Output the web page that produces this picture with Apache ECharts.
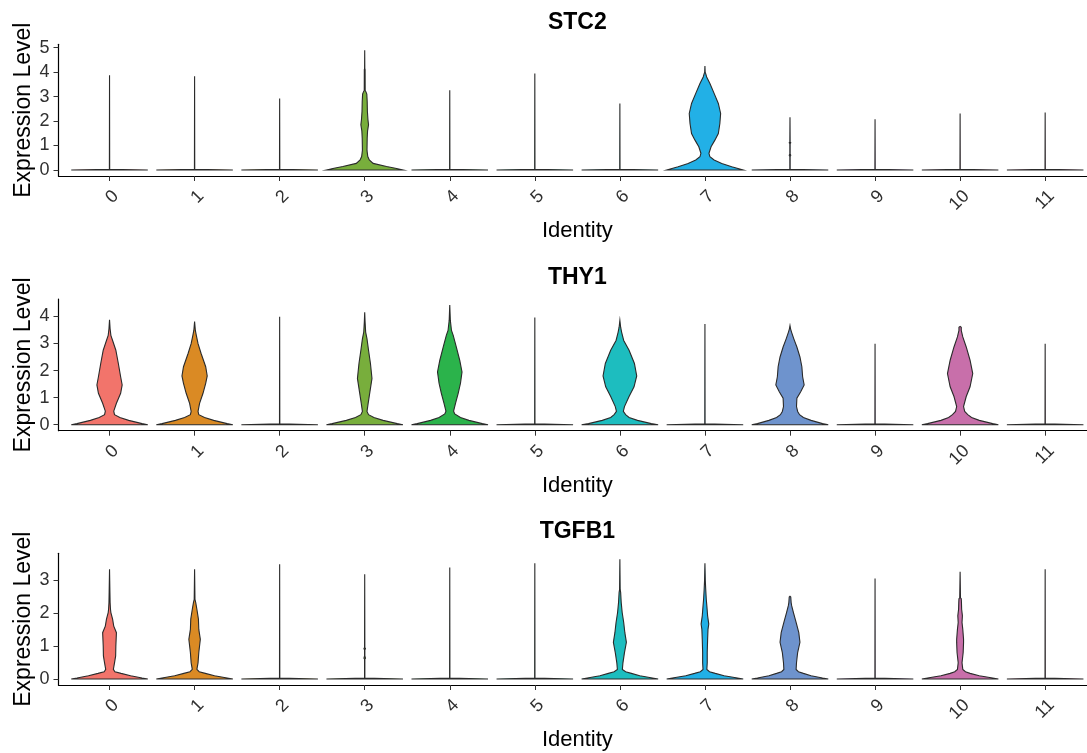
<!DOCTYPE html>
<html><head><meta charset="utf-8">
<script src="https://cdn.jsdelivr.net/npm/echarts@6/dist/echarts.min.js"></script>
<style>html,body{margin:0;padding:0;background:#fff}#c{width:1087px;height:753px}</style>
</head><body><div id="c"></div>
<script>
// ---------- data ----------
const categories = ['0','1','2','3','4','5','6','7','8','9','10','11'];
const genes = ['STC2','THY1','TGFB1'];
const clusterColors = ['#F2746B','#DA8A24','#B79F00','#78AE3C','#2BB34B','#00C08B',
                       '#1DBDBF','#22B0E6','#6E93CD','#C77CFF','#C86FAA','#FF64B0'];
const stc2Ticks = [0,1,2,3,4,5];
const thy1Ticks = [0,1,2,3,4];
const tgfb1Ticks = [0,1,2,3];

// violin profiles: [expression level, relative half-width]
const stc2Violins = [
  [[0,1],[0.03,0.004],[3.87,0]],
  [[0,1],[0.03,0.004],[3.83,0]],
  [[0,1],[0.03,0.004],[2.92,0]],
  [[0,1],[0.07,0.8],[0.14,0.57],[0.27,0.22],[0.41,0.12],[0.55,0.08],[0.8,0.06],[1.3,0.065],[1.6,0.075],[1.85,0.1],[2.05,0.085],[2.4,0.07],[2.8,0.065],[3.1,0.055],[3.2,0.03],[3.25,0.012],[4.1,0.01],[4.15,0.003],[4.89,0]],
  [[0,1],[0.03,0.004],[3.26,0]],
  [[0,1],[0.03,0.004],[3.94,0]],
  [[0,1],[0.03,0.004],[2.72,0]],
  [[0,1],[0.136,0.7],[0.27,0.44],[0.41,0.24],[0.54,0.13],[0.68,0.105],[0.95,0.16],[1.22,0.26],[1.49,0.35],[1.9,0.39],[2.31,0.41],[2.72,0.35],[3.13,0.24],[3.53,0.13],[3.8,0.045],[3.94,0.02],[4.0,0.006],[4.25,0]],
  [[0,1],[0.03,0.004],[0.55,0.004],[0.6,0.02],[0.65,0.004],[1.08,0.004],[1.11,0.02],[1.14,0.004],[2.15,0]],
  [[0,1],[0.03,0.004],[2.07,0]],
  [[0,1],[0.03,0.004],[2.31,0]],
  [[0,1],[0.03,0.004],[2.35,0]]
];
const thy1Violins = [
  [[0,1],[0.04,0.85],[0.16,0.5],[0.27,0.27],[0.37,0.13],[0.5,0.11],[0.79,0.18],[1.16,0.29],[1.47,0.33],[1.77,0.29],[2.26,0.23],[2.75,0.165],[3.11,0.08],[3.3,0.035],[3.54,0.015],[3.87,0]],
  [[0,1],[0.04,0.85],[0.16,0.5],[0.27,0.26],[0.37,0.11],[0.49,0.09],[0.79,0.13],[1.16,0.22],[1.53,0.29],[1.8,0.33],[2.14,0.29],[2.63,0.17],[2.99,0.09],[3.3,0.045],[3.48,0.02],[3.81,0]],
  [[0,1],[0.03,0.004],[3.99,0]],
  [[0,1],[0.04,0.85],[0.16,0.48],[0.27,0.24],[0.37,0.1],[0.49,0.06],[0.79,0.09],[1.16,0.13],[1.71,0.19],[2.26,0.15],[2.75,0.1],[3.17,0.06],[3.42,0.025],[3.79,0.01],[4.15,0]],
  [[0,1],[0.04,0.85],[0.16,0.5],[0.27,0.28],[0.4,0.13],[0.5,0.1],[0.79,0.15],[1.16,0.22],[1.53,0.28],[1.95,0.32],[2.38,0.26],[2.87,0.17],[3.3,0.09],[3.48,0.045],[3.85,0.015],[4.42,0]],
  [[0,1],[0.03,0.004],[3.96,0]],
  [[0,1],[0.04,0.82],[0.16,0.46],[0.27,0.24],[0.37,0.15],[0.49,0.09],[0.67,0.12],[1.04,0.24],[1.4,0.37],[1.8,0.44],[2.26,0.38],[2.75,0.24],[3.11,0.1],[3.42,0.045],[3.6,0.02],[3.85,0]],
  [[0,1],[0.03,0.004],[3.72,0]],
  [[0,1],[0.04,0.85],[0.16,0.55],[0.27,0.35],[0.37,0.25],[0.49,0.2],[0.67,0.17],[0.98,0.18],[1.22,0.28],[1.47,0.37],[1.77,0.33],[2.14,0.31],[2.5,0.26],[2.87,0.18],[3.17,0.1],[3.42,0.04],[3.54,0.015],[3.66,0]],
  [[0,1],[0.03,0.004],[2.99,0]],
  [[0,1],[0.04,0.85],[0.16,0.5],[0.27,0.3],[0.37,0.2],[0.49,0.12],[0.67,0.09],[1.04,0.16],[1.4,0.26],[1.89,0.33],[2.38,0.26],[2.87,0.16],[3.24,0.07],[3.48,0.03],[3.6,0.03],[3.63,0]],
  [[0,1],[0.03,0.004],[2.99,0]]
];
const tgfb1Violins = [
  [[0,1],[0.03,0.85],[0.1,0.55],[0.17,0.3],[0.22,0.14],[0.29,0.1],[0.49,0.13],[0.7,0.16],[1.0,0.165],[1.4,0.18],[1.6,0.11],[1.81,0.08],[2.01,0.035],[2.11,0.025],[2.31,0.015],[2.62,0.01],[3.32,0]],
  [[0,1],[0.03,0.85],[0.1,0.52],[0.17,0.28],[0.22,0.12],[0.29,0.06],[0.49,0.09],[0.8,0.11],[1.2,0.15],[1.5,0.11],[1.81,0.1],[2.11,0.06],[2.31,0.03],[2.41,0.01],[3.32,0]],
  [[0,1],[0.03,0.004],[3.47,0]],
  [[0,1],[0.03,0.004],[0.6,0.004],[0.63,0.02],[0.7,0.004],[0.88,0.004],[0.92,0.02],[0.95,0.004],[3.17,0]],
  [[0,1],[0.03,0.004],[3.37,0]],
  [[0,1],[0.03,0.004],[3.5,0]],
  [[0,1],[0.03,0.85],[0.1,0.52],[0.17,0.3],[0.22,0.15],[0.29,0.065],[0.49,0.08],[0.8,0.12],[1.11,0.17],[1.4,0.13],[1.71,0.1],[2.01,0.06],[2.31,0.035],[2.62,0.02],[2.7,0.008],[3.62,0]],
  [[0,1],[0.03,0.85],[0.1,0.5],[0.17,0.27],[0.22,0.12],[0.29,0.05],[0.49,0.06],[0.8,0.06],[1.2,0.07],[1.5,0.08],[1.66,0.1],[1.91,0.07],[2.21,0.05],[2.41,0.035],[2.72,0.02],[2.97,0.01],[3.5,0]],
  [[0,1],[0.03,0.85],[0.1,0.55],[0.17,0.35],[0.22,0.22],[0.29,0.16],[0.49,0.17],[0.8,0.2],[1.11,0.26],[1.4,0.23],[1.71,0.16],[2.01,0.09],[2.21,0.045],[2.31,0.03],[2.48,0.02],[2.5,0]],
  [[0,1],[0.03,0.004],[3.04,0]],
  [[0,1],[0.03,0.85],[0.1,0.5],[0.17,0.26],[0.22,0.14],[0.29,0.07],[0.49,0.05],[0.8,0.08],[1.1,0.09],[1.2,0.09],[1.5,0.07],[1.71,0.05],[1.91,0.06],[2.11,0.04],[2.31,0.035],[2.43,0.03],[2.45,0.01],[3.24,0]],
  [[0,1],[0.03,0.004],[3.32,0]]
];

// ---------- chart ----------
const panels = [
  {gene: genes[0], violins: stc2Violins, ticks: stc2Ticks},
  {gene: genes[1], violins: thy1Violins, ticks: thy1Ticks},
  {gene: genes[2], violins: tgfb1Violins, ticks: tgfb1Ticks}
];
const FONT = '"Liberation Sans", Arial, sans-serif';
const HALF = 0.45;
const gridLeft = 58.5, gridWidth = 1037.7, gridHeight = 131.7;
const gridTops = [44.3, 299, 553.3];
const catIdx = categories.map((c, i) => i);

function dataMax(v) { let m = 0; v.forEach(p => p.forEach(q => { if (q[0] > m) m = q[0]; })); return m; }

function makeRender(profiles) {
  return function (params, api) {
    const idx = params.dataIndex;
    const prof = profiles[idx];
    const x = api.value(0);
    const left = [], right = [];
    prof.forEach(([y, w]) => {
      left.push(api.coord([x - w * HALF, y]));
      right.push(api.coord([x + w * HALF, y]));
    });
    const pts = left.concat(right.reverse());
    return {
      type: 'polygon',
      shape: { points: pts },
      style: { fill: clusterColors[idx], stroke: '#2a2a2a', lineWidth: 1.1 }
    };
  };
}

const option = {
  backgroundColor: '#fff',
  animation: false,
  title: [], grid: [], xAxis: [], yAxis: [], series: []
};

panels.forEach((p, k) => {
  const mx = dataMax(p.violins);
  option.title.push({
    text: p.gene, left: gridLeft + gridWidth / 2, top: gridTops[k] - 33, textAlign: 'center', padding: 0,
    textStyle: { fontFamily: FONT, fontSize: 23, fontWeight: 'bold', color: '#000' }
  });
  option.grid.push({ left: gridLeft, top: gridTops[k], width: gridWidth, height: gridHeight,
    containLabel: false, outerBoundsMode: 'none' });
  option.xAxis.push({
    type: 'value', gridIndex: k, min: -0.6, max: categories.length - 0.4,
    name: 'Identity', nameLocation: 'middle', nameGap: 44,
    nameTextStyle: { fontFamily: FONT, fontSize: 22, color: '#000' },
    axisLine: { onZero: false, lineStyle: { color: '#000', width: 1.2 } },
    axisTick: { customValues: catIdx, length: 5, lineStyle: { color: '#333' } },
    axisLabel: {
      customValues: catIdx, formatter: v => categories[Math.round(v)],
      rotate: 45, align: 'right', verticalAlign: 'top', margin: 11,
      fontFamily: FONT, fontSize: 18, color: '#303030'
    },
    splitLine: { show: false }
  });
  option.yAxis.push({
    type: 'value', gridIndex: k, min: -0.05 * mx, max: 1.05 * mx,
    name: 'Expression Level', nameLocation: 'middle', nameGap: 23, nameRotate: 90,
    nameMoveOverlap: false,
    nameTextStyle: { fontFamily: FONT, fontSize: 23, color: '#000' },
    axisLine: { show: true, onZero: false, lineStyle: { color: '#000', width: 1.2 } },
    axisTick: { show: true, customValues: p.ticks, length: 5, lineStyle: { color: '#333' } },
    axisLabel: { customValues: p.ticks, margin: 9, fontFamily: FONT, fontSize: 18, color: '#303030' },
    splitLine: { show: false }
  });
  option.series.push({
    type: 'custom', xAxisIndex: k, yAxisIndex: k,
    renderItem: makeRender(p.violins),
    encode: { x: 0, y: 1 },
    data: p.violins.map((v, i) => [i, dataMax([v])]),
    silent: true
  });
});

const chart = echarts.init(document.getElementById('c'), null, { renderer: 'canvas' });
chart.setOption(option);
</script>
</body></html>
